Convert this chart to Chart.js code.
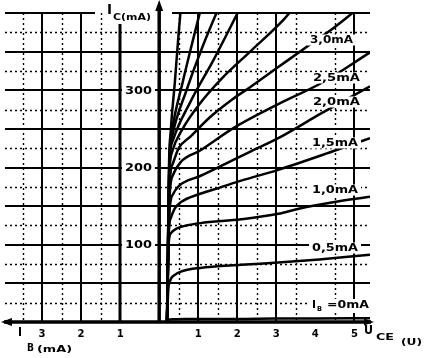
<!DOCTYPE html>
<html><head><meta charset="utf-8">
<script src="https://cdn.jsdelivr.net/npm/chart.js@4.4.1/dist/chart.umd.min.js"></script>
<style>html,body{margin:0;padding:0;background:#fff;}canvas{display:block;}</style>
</head><body>
<canvas id="c" width="426" height="358"></canvas>
<script>
// ---- data: U_CE (V) and I_C (mA) per base current ----
const u_ib00 = [0.2, 0.22, 0.35, 1, 2, 3, 4, 5.4];
const ic_ib00 = [0, 3, 3.5, 4, 4, 4.5, 4.5, 5];
const u_ib05 = [0.2, 0.23, 0.27, 0.4, 0.6, 1.05, 2.1, 3.05, 4.1, 5.4];
const ic_ib05 = [0, 40, 52, 61, 66, 70, 74, 77, 81, 87];
const u_ib10 = [0.2, 0.24, 0.3, 0.45, 0.7, 1.05, 2.1, 3.05, 3.6, 4.45, 5.4];
const ic_ib10 = [0, 100, 115, 121, 125, 128, 133, 140, 147, 155, 162];
const u_ib15 = [0.2, 0.25, 0.3, 0.4, 0.55, 1.05, 1.55, 2.1, 3.05, 4.45, 5.4];
const ic_ib15 = [0, 120, 135, 147, 155, 166, 174, 183, 197, 221, 238];
const u_ib20 = [0.2, 0.26, 0.35, 0.5, 1.05, 1.9, 2.35, 3.05, 4.15, 5.4];
const ic_ib20 = [0, 140, 165, 176, 189, 210, 221, 238, 270, 305];
const u_ib25 = [0.2, 0.27, 0.35, 0.55, 1.05, 1.9, 3.05, 4.18, 5.4];
const ic_ib25 = [0, 165, 190, 207, 222, 251, 282, 310, 349];
const u_ib30 = [0.2, 0.27, 0.35, 0.5, 0.8, 1.3, 1.87, 2.3, 3.05, 3.8, 4.45, 5.0];
const ic_ib30 = [0, 180, 205, 225, 240, 265, 288, 303, 330, 357, 380, 402];
const u_ib35 = [0.2, 0.26, 0.33, 0.6, 1.0, 1.6, 2.33, 3.2, 3.4];
const ic_ib35 = [0, 190, 220, 250, 280, 315, 350, 392, 404];
const u_ib40 = [0.2, 0.26, 0.35, 0.8, 1.4, 2.05];
const ic_ib40 = [0, 200, 235, 285, 340, 404];
const u_ib45 = [0.2, 0.26, 0.33, 0.7, 1.1, 1.5];
const ic_ib45 = [0, 205, 240, 300, 355, 404];
const u_ib50 = [0.2, 0.26, 0.32, 0.6, 0.85, 1.06];
const ic_ib50 = [0, 210, 245, 310, 362, 404];
const u_ib55 = [0.2, 0.25, 0.3, 0.4, 0.5, 0.55];
const ic_ib55 = [0, 200, 250, 310, 375, 404];

const curveLabels = ['3,0mA', '2,5mA', '2,0mA', '1,5mA', '1,0mA', '0,5mA'];
const icTicks = [100, 200, 300];
const xTicks = [-3, -2, -1, 1, 2, 3, 4, 5];

const curves = [
  [u_ib00, ic_ib00], [u_ib05, ic_ib05], [u_ib10, ic_ib10], [u_ib15, ic_ib15],
  [u_ib20, ic_ib20], [u_ib25, ic_ib25], [u_ib30, ic_ib30], [u_ib35, ic_ib35],
  [u_ib40, ic_ib40], [u_ib45, ic_ib45], [u_ib50, ic_ib50], [u_ib55, ic_ib55]
];

const FONT = '"DejaVu Sans"';
function txt(ctx, s, left, cy, size, width, bg) {
  ctx.save();
  ctx.font = 'bold ' + size + 'px ' + FONT;
  const w0 = ctx.measureText(s).width;
  const sx = width ? width / w0 : 1;
  const w = w0 * sx;
  if (bg) { ctx.fillStyle = '#fff'; ctx.fillRect(left - bg, cy - size * 0.55, w + 2 * bg, size * 1.1); }
  ctx.translate(left, cy); ctx.scale(sx, 1);
  ctx.fillStyle = '#000'; ctx.textBaseline = 'middle'; ctx.textAlign = 'left';
  ctx.fillText(s, 0, 0);
  ctx.restore();
  return w;
}

const paper = {
  id: 'paper',
  beforeDatasetsDraw(chart) {
    const { ctx, chartArea: a, scales: { x, y } } = chart;
    ctx.save();
    ctx.strokeStyle = '#000';
    // dotted minor grid
    ctx.lineWidth = 1.4; ctx.setLineDash([2, 3]);
    for (let v = 25; v < 400; v += 50) {
      const py = Math.round(y.getPixelForValue(v)) + 0.5;
      ctx.beginPath(); ctx.moveTo(a.left, py); ctx.lineTo(a.right, py); ctx.stroke();
    }
    [-3.5, -2.5, -1.5, 0.5, 1.5, 2.5, 3.5, 4.5].forEach(v => {
      const px = Math.round(x.getPixelForValue(v)) + 0.5;
      ctx.beginPath(); ctx.moveTo(px, a.top); ctx.lineTo(px, a.bottom); ctx.stroke();
    });
    // solid major grid
    ctx.setLineDash([]); ctx.lineWidth = 2;
    for (let v = 50; v < 400; v += 50) {
      const py = Math.round(y.getPixelForValue(v));
      ctx.beginPath(); ctx.moveTo(a.left, py); ctx.lineTo(a.right, py); ctx.stroke();
    }
    const pt = Math.round(y.getPixelForValue(400));
    ctx.beginPath(); ctx.moveTo(a.left, pt); ctx.lineTo(95, pt); ctx.stroke();
    ctx.beginPath(); ctx.moveTo(172, pt); ctx.lineTo(a.right, pt); ctx.stroke();
    [-3, -2, -1, 1, 2, 3, 5].forEach(v => {
      const px = Math.round(x.getPixelForValue(v));
      ctx.lineWidth = v === -1 ? 3 : 2;
      ctx.beginPath(); ctx.moveTo(px, a.top); ctx.lineTo(px, a.bottom); ctx.stroke();
    });
    // axes
    const x0 = x.getPixelForValue(0), y0 = y.getPixelForValue(0);
    ctx.lineWidth = 3.5;
    ctx.beginPath(); ctx.moveTo(4, y0); ctx.lineTo(a.right + 1, y0); ctx.stroke();
    ctx.beginPath(); ctx.moveTo(x0, y0); ctx.lineTo(x0, 6); ctx.stroke();
    ctx.fillStyle = '#000';
    ctx.beginPath(); ctx.moveTo(x0, 0); ctx.lineTo(x0 - 4, 11); ctx.lineTo(x0 + 4, 11); ctx.closePath(); ctx.fill();
    ctx.beginPath(); ctx.moveTo(1, y0); ctx.lineTo(12, y0 - 4); ctx.lineTo(12, y0 + 4); ctx.closePath(); ctx.fill();
    ctx.beginPath(); ctx.moveTo(a.right + 4, y0); ctx.lineTo(a.right - 6, y0 - 3.5); ctx.lineTo(a.right - 6, y0 + 3.5); ctx.closePath(); ctx.fill();
    ctx.restore();
  },
  afterDatasetsDraw(chart) {
    const { ctx, scales: { x, y } } = chart;
    // I_C axis tick labels
    icTicks.forEach(v => { txt(ctx, String(v), 125, y.getPixelForValue(v) + 0.5, 11, 27, 3); });
    // I_C label
    ctx.save(); ctx.fillStyle = '#fff'; ctx.fillRect(104, 0, 50, 24); ctx.restore();
    txt(ctx, 'I', 107, 10, 14, 5);
    txt(ctx, 'C(mA)', 113, 18, 8, 38);
    // x tick labels (absolute values)
    xTicks.forEach(v => {
      const px = x.getPixelForValue(v);
      txt(ctx, String(Math.abs(v)), px - 3.5, 334, 11, 7);
    });
    txt(ctx, 'I', 18, 333, 12, 4);
    txt(ctx, 'B', 27, 348, 10, 7);
    txt(ctx, '(mA)', 37, 350, 8, 35);
    txt(ctx, 'U', 364, 331, 12, 9);
    txt(ctx, 'CE', 376, 338, 9, 18);
    txt(ctx, '(U)', 401, 343, 9, 21);
    // curve labels
    const lab = [[310, 40, 43], [313, 78, 47], [313, 102, 47], [312, 143, 46], [312, 190, 46], [312, 248, 46]];
    curveLabels.forEach((s, i) => { txt(ctx, s, lab[i][0], lab[i][1], 10, lab[i][2], 3); });
    ctx.save(); ctx.fillStyle = '#fff'; ctx.fillRect(309, 299, 63, 14); ctx.restore();
    txt(ctx, 'I', 312, 305, 11, 4);
    txt(ctx, 'B', 317, 309, 7, 5);
    txt(ctx, '=0mA', 327, 305, 10, 42);
  }
};

new Chart(document.getElementById('c'), {
  type: 'line',
  data: {
    datasets: curves.map(([u, ic]) => ({
      data: u.map((v, i) => ({ x: v, y: ic[i] })),
      borderColor: '#000', borderWidth: 2.5, pointRadius: 0, fill: false,
      cubicInterpolationMode: 'monotone'
    }))
  },
  options: {
    responsive: false, animation: false, devicePixelRatio: 1,
    layout: { padding: { left: 5, right: 56, top: 13, bottom: 36 } },
    plugins: { legend: { display: false }, tooltip: { enabled: false } },
    scales: {
      x: { type: 'linear', min: -3.95, max: 5.4, display: false },
      y: { type: 'linear', min: 0, max: 400, display: false }
    }
  },
  plugins: [paper]
});
</script>
</body></html>
